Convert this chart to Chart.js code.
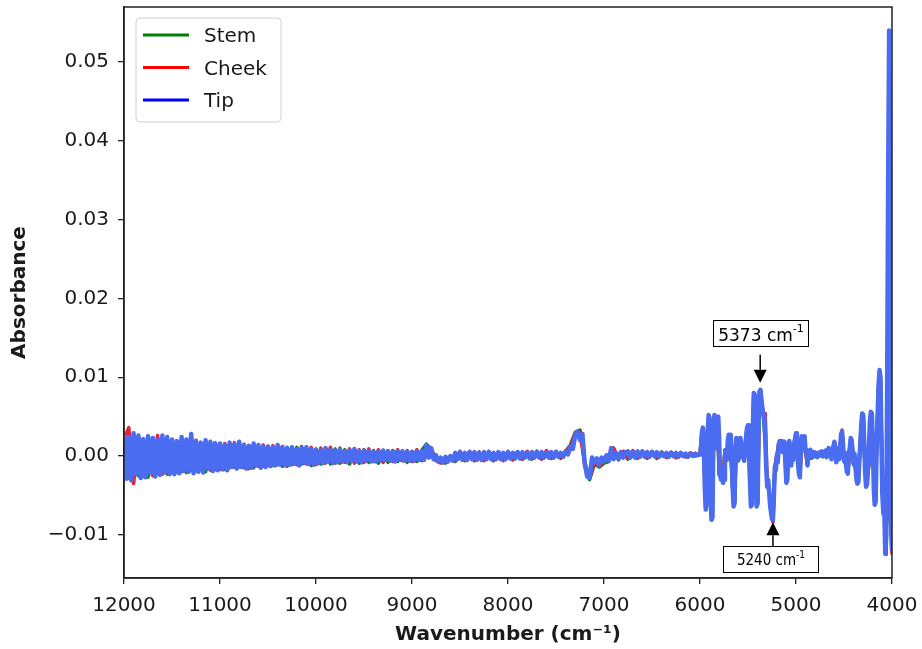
<!DOCTYPE html>
<html>
<head>
<meta charset="utf-8">
<script src="https://cdn.jsdelivr.net/npm/chart.js@4.4.1/dist/chart.umd.min.js"></script>
<style>
  html, body { margin: 0; padding: 0; background: #ffffff; }
  canvas { display: block; }
</style>
</head>
<body>
<canvas id="spectrum" width="922" height="649"></canvas>
<script>
// NIR absorbance spectra of three fruit regions.
const seriesNames = ['Stem', 'Cheek', 'Tip'];
const lineColors = ['#0b800b', '#e8203a', '#4a6cf0'];
const legendColors = ['#008000', '#ff0000', '#0000ff'];
const lineWidths = [3.5, 3.5, 4.5];

const xTickValues = [12000, 11000, 10000, 9000, 8000, 7000, 6000, 5000, 4000];
const yTickValues = [-0.01, 0.00, 0.01, 0.02, 0.03, 0.04, 0.05];

// Marked peaks (cm-1)
const peakUp = 5373;
const peakDown = 5240;

// Tip: 12000 -> 6025 cm-1, every 25 cm-1
const tipNoise = [
  0.0027, -0.0029, 0.0024, -0.0031, 0.0029, -0.0023, 0.0026, -0.0028, 0.0021, -0.0027,
  0.0025, -0.0022, 0.0023, -0.0026, 0.0020, -0.0024, 0.0026, -0.0021, 0.0024, -0.0023,
  0.0021, -0.0023, 0.0019, -0.0022, 0.0024, -0.0019, 0.0021, -0.0020, 0.0028, -0.0022,
  0.0019, -0.0020, 0.0017, -0.0021, 0.0020, -0.0016, 0.0018, -0.0019, 0.0016, -0.0018,
  0.0016, -0.0017, 0.0014, -0.0018, 0.0017, -0.0014, 0.0015, -0.0016, 0.0018, -0.0014,
  0.0014, -0.0016, 0.0013, -0.0015, 0.0016, -0.0012, 0.0014, -0.0015, 0.0012, -0.0014,
  0.0012, -0.0013, 0.0011, -0.0012, 0.0014, -0.0011, 0.0011, -0.0012, 0.0010, -0.0011,
  0.0011, -0.0010, 0.0009, -0.0012, 0.0010, -0.0009, 0.0011, -0.0010, 0.0009, -0.0011,
  0.0008, -0.0009, 0.0007, -0.0009, 0.0010, -0.0007, 0.0008, -0.0009, 0.0007, -0.0008,
  0.0008, -0.0007, 0.0006, -0.0008, 0.0007, -0.0006, 0.0009, -0.0007, 0.0006, -0.0008,
  0.0007, -0.0006, 0.0006, -0.0007, 0.0005, -0.0007, 0.0006, -0.0006, 0.0007, -0.0005,
  0.0006, -0.0006, 0.0005, -0.0007, 0.0006, -0.0005, 0.0006, -0.0006, 0.0005, -0.0006,
  0.0005, -0.0006, 0.0006, -0.0005, 0.0006, -0.0005, 0.0014, -0.0002, 0.0010, -0.0004,
  0.0001, -0.0007, -0.0002, -0.0008, -0.0001, -0.0007, 0.0000, -0.0006, 0.0004, -0.0004,
  0.0005, -0.0005, 0.0004, -0.0005, 0.0005, -0.0004, 0.0005, -0.0005, 0.0004, -0.0005,
  0.0005, -0.0004, 0.0005, -0.0004, 0.0004, -0.0004, 0.0005, -0.0004, 0.0004, -0.0004,
  0.0005, -0.0003, 0.0004, -0.0003, 0.0005, -0.0003, 0.0005, -0.0002, 0.0004, -0.0003,
  0.0005, -0.0002, 0.0005, -0.0002, 0.0005, -0.0002, 0.0004, -0.0002, 0.0005, -0.0002,
  0.0005, -0.0001, 0.0004, -0.0001, 0.0006, 0.0002, 0.0012, 0.0009, 0.0026, 0.0031,
  0.0020, 0.0028, -0.0010, -0.0026, -0.0028, -0.0002, -0.0008, -0.0003, -0.0011, -0.0002,
  -0.0007, 0.0001, -0.0006, 0.0010, -0.0004, 0.0004, -0.0003, 0.0005, -0.0002, 0.0005,
  0.0006, -0.0002, 0.0005, -0.0002, 0.0006, -0.0001, 0.0006, -0.0001, 0.0005, -0.0001,
  0.0005, 0.0000, 0.0005, -0.0001, 0.0004, 0.0000, 0.0004, -0.0001, 0.0004, 0.0000,
  0.0004, -0.0001, 0.0004, 0.0000, 0.0003, -0.0001, 0.0003, 0.0000, 0.0003, 0.0001
];

// Tip: 6000 -> 4000 cm-1, every 10 cm-1
const tipBands = [
  0.0002, 0.0010, 0.0030, 0.0036, 0.0012, -0.0040, -0.0068, -0.0060, 0.0030, 0.0052,
  0.0048, -0.0050, -0.0081, -0.0078, 0.0030, 0.0052, 0.0048, 0.0010, 0.0045, 0.0050,
  0.0020, -0.0025, -0.0030, -0.0015, -0.0034, -0.0030, 0.0000, 0.0008, -0.0005, 0.0020,
  0.0027, 0.0024, 0.0027, 0.0005, -0.0040, -0.0064, -0.0060, 0.0005, 0.0023, 0.0020,
  -0.0005, 0.0012, 0.0023, 0.0015, 0.0000, 0.0004, -0.0006, 0.0005, 0.0025, 0.0036,
  0.0039, 0.0015, -0.0030, -0.0064, -0.0062, 0.0030, 0.0080, 0.0078, -0.0020, -0.0064,
  -0.0060, 0.0030, 0.0082, 0.0084, 0.0072, 0.0060, 0.0052, 0.0050, 0.0020, -0.0015,
  -0.0039, -0.0030, -0.0045, -0.0062, -0.0072, -0.0080, -0.0081, -0.0050, -0.0014, -0.0018,
  0.0000, -0.0008, 0.0015, 0.0019, 0.0008, 0.0019, 0.0005, 0.0012, 0.0018, -0.0010,
  -0.0034, -0.0030, 0.0010, 0.0019, 0.0012, -0.0012, 0.0004, -0.0005, 0.0015, 0.0022,
  0.0029, 0.0025, -0.0008, -0.0022, -0.0027, 0.0005, 0.0025, 0.0018, 0.0022, 0.0025,
  0.0005, 0.0008, -0.0012, 0.0006, 0.0002, 0.0008, -0.0002, 0.0004, 0.0000, 0.0005,
  0.0001, 0.0004, -0.0001, 0.0003, 0.0001, 0.0005, 0.0002, 0.0006, 0.0000, 0.0004,
  0.0002, 0.0007, -0.0001, 0.0004, 0.0010, 0.0002, 0.0006, -0.0004, 0.0008, 0.0012,
  0.0018, 0.0010, -0.0008, 0.0006, 0.0010, -0.0004, 0.0012, 0.0028, 0.0031, 0.0015,
  -0.0006, 0.0004, -0.0010, -0.0020, -0.0022, 0.0002, 0.0010, 0.0023, 0.0020, 0.0005,
  -0.0010, 0.0003, -0.0015, -0.0030, -0.0035, -0.0033, -0.0005, 0.0015, 0.0040, 0.0054,
  0.0052, 0.0020, -0.0020, -0.0039, -0.0036, -0.0010, 0.0010, 0.0045, 0.0056, 0.0054,
  0.0020, -0.0040, -0.0062, -0.0058, 0.0010, 0.0050, 0.0090, 0.0109, 0.0100, 0.0020,
  -0.0050, -0.0073, -0.0070, -0.0124, -0.0100, 0.0100, 0.0350, 0.0540, 0.0250, -0.0080,
  -0.0120
];

// Stem: 12000 -> 6050 cm-1, every 50 cm-1
const stemNoise = [
  0.0025, -0.0028, 0.0026, -0.0025, 0.0022, -0.0027, 0.0023, -0.0022, 0.0024, -0.0023,
  0.0020, -0.0020, 0.0018, -0.0021, 0.0017, -0.0019, 0.0016, -0.0020, 0.0017, -0.0017,
  0.0015, -0.0017, 0.0014, -0.0014, 0.0015, -0.0015, 0.0012, -0.0015, 0.0013, -0.0013,
  0.0012, -0.0012, 0.0010, -0.0013, 0.0011, -0.0011, 0.0011, -0.0010, 0.0010, -0.0012,
  0.0009, -0.0010, 0.0008, -0.0010, 0.0009, -0.0009, 0.0008, -0.0010, 0.0007, -0.0009,
  0.0008, -0.0008, 0.0007, -0.0009, 0.0006, -0.0008, 0.0007, -0.0007, 0.0006, -0.0008,
  0.0006, -0.0007, 0.0007, 0.0015, 0.0009, -0.0005, -0.0008, -0.0009, -0.0003, -0.0007,
  0.0005, -0.0006, 0.0004, -0.0006, 0.0005, -0.0005, 0.0004, -0.0006, 0.0004, -0.0005,
  0.0004, -0.0005, 0.0005, -0.0004, 0.0005, -0.0004, 0.0006, -0.0003, 0.0005, -0.0003,
  0.0005, -0.0003, 0.0006, 0.0014, 0.0030, 0.0033, -0.0008, -0.0030, -0.0010, -0.0014,
  -0.0009, -0.0007, 0.0010, -0.0005, 0.0005, -0.0004, 0.0006, -0.0003, 0.0005, -0.0003,
  0.0004, -0.0003, 0.0005, -0.0002, 0.0004, -0.0002, 0.0003, -0.0001, 0.0003, 0.0000
];

// Stem: 6000 -> 4000 cm-1, every 20 cm-1
const stemBands = [
  0.0002, 0.0028, 0.0010, -0.0066, 0.0028, 0.0046, -0.0079, 0.0028, 0.0046, 0.0044,
  -0.0024, -0.0014, -0.0029, 0.0007, -0.0004, 0.0025, 0.0004, -0.0039, -0.0058, 0.0022,
  -0.0006, 0.0021, 0.0000, -0.0006, 0.0024, 0.0038, -0.0029, -0.0060, 0.0078, -0.0018,
  -0.0058, 0.0080, 0.0070, 0.0050, 0.0019, -0.0038, -0.0044, -0.0070, -0.0082, -0.0014,
  0.0000, 0.0014, 0.0008, 0.0005, 0.0017, -0.0033, 0.0010, 0.0011, 0.0004, 0.0014,
  0.0028, -0.0008, -0.0026, 0.0024, 0.0021, 0.0004, -0.0011, 0.0001, -0.0003, -0.0001,
  0.0000, -0.0002, 0.0000, 0.0001, -0.0001, 0.0001, -0.0002, 0.0009, 0.0005, 0.0007,
  0.0017, -0.0008, 0.0009, 0.0011, 0.0030, -0.0007, -0.0010, -0.0021, 0.0009, 0.0019,
  -0.0011, -0.0014, -0.0034, -0.0005, 0.0038, 0.0051, -0.0019, -0.0035, -0.0010, 0.0044,
  0.0019, -0.0060, 0.0009, 0.0088, 0.0098, -0.0048, -0.0068, -0.0098, 0.0170, -0.0080,
  -0.0110
];

// Cheek: 12000 -> 6050 cm-1, every 50 cm-1
const cheekNoise = [
  0.0022, 0.0036, -0.0035, 0.0025, -0.0026, 0.0022, -0.0025, 0.0026, -0.0023, 0.0022,
  -0.0021, 0.0019, -0.0020, 0.0021, -0.0018, 0.0020, -0.0017, 0.0019, -0.0018, 0.0017,
  -0.0017, 0.0016, -0.0015, 0.0017, -0.0014, 0.0015, -0.0016, 0.0014, -0.0013, 0.0014,
  -0.0012, 0.0013, -0.0011, 0.0012, -0.0013, 0.0011, -0.0011, 0.0012, -0.0010, 0.0011,
  -0.0011, 0.0010, -0.0009, 0.0011, -0.0009, 0.0010, -0.0008, 0.0009, -0.0009, 0.0008,
  -0.0008, 0.0009, -0.0007, 0.0008, -0.0008, 0.0007, -0.0007, 0.0008, -0.0006, 0.0007,
  -0.0007, 0.0008, -0.0006, 0.0013, 0.0009, -0.0006, -0.0009, -0.0007, -0.0002, -0.0006,
  0.0006, -0.0005, 0.0006, -0.0005, 0.0005, -0.0006, 0.0006, -0.0005, 0.0005, -0.0006,
  0.0006, -0.0004, 0.0005, -0.0004, 0.0006, -0.0003, 0.0006, -0.0004, 0.0007, -0.0003,
  0.0006, -0.0002, 0.0006, 0.0012, 0.0028, 0.0030, -0.0012, -0.0028, -0.0008, -0.0013,
  -0.0007, 0.0000, 0.0010, -0.0004, 0.0006, -0.0003, 0.0007, -0.0002, 0.0006, -0.0002,
  0.0006, -0.0002, 0.0005, -0.0001, 0.0005, -0.0002, 0.0004, -0.0001, 0.0004, 0.0001
];

// Cheek: 6000 -> 4000 cm-1, every 20 cm-1
const cheekBands = [
  0.0003, 0.0029, 0.0011, -0.0067, 0.0029, 0.0047, -0.0080, 0.0029, 0.0047, 0.0046,
  -0.0023, -0.0013, -0.0028, 0.0008, -0.0003, 0.0026, 0.0005, -0.0040, -0.0059, 0.0023,
  -0.0005, 0.0022, 0.0001, -0.0005, 0.0025, 0.0039, -0.0028, -0.0061, 0.0079, -0.0017,
  -0.0059, 0.0081, 0.0071, 0.0054, 0.0054, -0.0037, -0.0043, -0.0071, -0.0084, -0.0013,
  0.0001, 0.0015, 0.0009, 0.0006, 0.0018, -0.0032, 0.0011, 0.0012, 0.0005, 0.0015,
  0.0029, -0.0007, -0.0025, 0.0025, 0.0022, 0.0005, -0.0010, 0.0002, -0.0002, 0.0000,
  0.0001, -0.0001, 0.0001, 0.0002, 0.0000, 0.0002, -0.0001, 0.0010, 0.0006, 0.0008,
  0.0018, -0.0007, 0.0010, 0.0012, 0.0033, -0.0006, -0.0009, -0.0023, 0.0010, 0.0020,
  -0.0010, -0.0013, -0.0033, -0.0004, 0.0039, 0.0052, -0.0018, -0.0034, -0.0009, 0.0045,
  0.0020, -0.0059, 0.0010, 0.0089, 0.0099, -0.0047, -0.0067, -0.0125, 0.0228, -0.0060,
  -0.0125
];

function spectrumPoints(noise, noiseStep, bands, bandStep) {
  const pts = noise.map((v, i) => ({ x: 12000 - i * noiseStep, y: v }));
  bands.forEach((v, i) => pts.push({ x: 6000 - i * bandStep, y: v }));
  return pts;
}

const seriesPoints = [
  spectrumPoints(stemNoise, 50, stemBands, 20),
  spectrumPoints(cheekNoise, 50, cheekBands, 20),
  spectrumPoints(tipNoise, 25, tipBands, 10)
];

const drawOrder = [2, 1, 0]; // Tip on top

const FONT = "'DejaVu Sans', 'Liberation Sans', sans-serif";
const INK = '#1a1a1a';

function fmtTick(v) {
  const s = Math.abs(v).toFixed(2);
  return v < -1e-9 ? '\u2212' + s : s;
}

const overlay = {
  id: 'overlay',
  afterDatasetsDraw(chart) {
    const { ctx, chartArea: a, scales: { x, y } } = chart;
    ctx.save();

    // axes frame
    ctx.strokeStyle = '#222';
    ctx.lineWidth = 1.5;
    ctx.strokeRect(a.left, a.top, a.right - a.left, a.bottom - a.top);

    // legend
    const lx = a.left + 12, ly = a.top + 11, lw = 145, lh = 104;
    ctx.beginPath();
    ctx.roundRect(lx, ly, lw, lh, 4);
    ctx.fillStyle = 'rgba(255,255,255,0.85)';
    ctx.fill();
    ctx.strokeStyle = '#d0d0d0';
    ctx.lineWidth = 1;
    ctx.stroke();
    ctx.font = '20px ' + FONT;
    ctx.textBaseline = 'alphabetic';
    ctx.textAlign = 'left';
    seriesNames.forEach((name, i) => {
      const rowY = ly + 17 + i * 32.5;
      ctx.strokeStyle = legendColors[i];
      ctx.lineWidth = 3;
      ctx.beginPath();
      ctx.moveTo(lx + 7, rowY);
      ctx.lineTo(lx + 53, rowY);
      ctx.stroke();
      ctx.fillStyle = INK;
      ctx.fillText(name, lx + 68, rowY + 7);
    });

    // peak markers
    drawNote(ctx, x.getPixelForValue(peakUp), y.getPixelForValue(0.0093), 'down',
      String(peakUp) + ' cm', '17px ' + FONT, '11px ' + FONT, -47);
    drawNote(ctx, x.getPixelForValue(peakDown), y.getPixelForValue(-0.0084), 'up',
      String(peakDown) + ' cm', "15px 'DejaVu Sans Condensed', " + FONT, "10px 'DejaVu Sans Condensed', " + FONT, -50);

    ctx.restore();
  }
};

function drawNote(ctx, px, tipY, dir, text, mainFont, supFont, boxShift) {
  const boxW = 95, boxH = 26, head = 13, half = 6.5;
  let boxTop, tailY, baseY;
  if (dir === 'down') {
    boxTop = tipY - 63;
    tailY = tipY - 28;
    baseY = tipY - head;
  } else {
    boxTop = tipY + 24;
    tailY = boxTop;
    baseY = tipY + head;
  }
  // arrow shaft + head
  ctx.strokeStyle = '#000';
  ctx.fillStyle = '#000';
  ctx.lineWidth = 1.5;
  ctx.beginPath();
  ctx.moveTo(px, tailY);
  ctx.lineTo(px, baseY);
  ctx.stroke();
  ctx.beginPath();
  ctx.moveTo(px - half, baseY);
  ctx.lineTo(px + half, baseY);
  ctx.lineTo(px, tipY);
  ctx.closePath();
  ctx.fill();

  // box
  const bx = Math.round(px + boxShift) + 0.5, by = Math.round(boxTop) + 0.5;
  ctx.fillStyle = '#fff';
  ctx.fillRect(bx, by, boxW, boxH);
  ctx.lineWidth = 1;
  ctx.strokeStyle = '#000';
  ctx.strokeRect(bx, by, boxW, boxH);

  // text with superscript
  ctx.textAlign = 'left';
  ctx.textBaseline = 'alphabetic';
  ctx.font = mainFont;
  const mw = ctx.measureText(text).width;
  ctx.font = supFont;
  const sw = ctx.measureText('-1').width;
  const tx = bx + (boxW - mw - sw) / 2;
  const mainBase = dir === 'down' ? by + 20.5 : by + 18;
  const supBase = by + 11;
  ctx.fillStyle = '#000';
  ctx.font = mainFont;
  ctx.fillText(text, tx, mainBase);
  ctx.font = supFont;
  ctx.fillText('-1', tx + mw, supBase);
}

const datasets = seriesNames.map((name, i) => ({
  label: name,
  data: seriesPoints[i],
  borderColor: lineColors[i],
  backgroundColor: lineColors[i],
  borderWidth: lineWidths[i],
  borderJoinStyle: 'round',
  pointRadius: 0,
  tension: 0,
  fill: false,
  order: drawOrder[i]
}));

new Chart(document.getElementById('spectrum'), {
  type: 'line',
  data: { datasets },
  options: {
    responsive: false,
    animation: false,
    devicePixelRatio: 1,
    layout: { padding: { top: 7, right: 30, left: 0, bottom: 0 } },
    plugins: { legend: { display: false }, tooltip: { enabled: false } },
    scales: {
      x: {
        type: 'linear',
        reverse: true,
        min: 4000,
        max: 12000,
        afterFit: s => { s.height = 71; s.paddingLeft = 0; s.paddingRight = 0; },
        afterBuildTicks: s => { s.ticks = xTickValues.map(v => ({ value: v })); },
        border: { display: true, color: '#222', width: 1.5 },
        grid: { display: true, drawOnChartArea: false, drawTicks: true, tickLength: 6, color: '#222', lineWidth: 1.3 },
        ticks: {
          autoSkip: false, maxRotation: 0, padding: 10,
          color: INK, font: { family: FONT, size: 20 },
          callback: v => String(v)
        },
        title: {
          display: true, text: 'Wavenumber (cm\u207B\u00B9)', color: INK,
          font: { family: FONT, size: 20, weight: 'bold' },
          padding: { top: 0, bottom: 2 }
        }
      },
      y: {
        type: 'linear',
        min: -0.01548,
        max: 0.05698,
        afterFit: s => { s.width = 124; s.paddingTop = 0; s.paddingBottom = 0; },
        afterBuildTicks: s => { s.ticks = yTickValues.map(v => ({ value: v })); },
        border: { display: true, color: '#222', width: 1.5 },
        grid: { display: true, drawOnChartArea: false, drawTicks: true, tickLength: 6, color: '#222', lineWidth: 1.3 },
        ticks: {
          padding: 9, color: INK, font: { family: FONT, size: 20 },
          callback: v => fmtTick(v)
        },
        title: {
          display: true, text: 'Absorbance', color: INK,
          font: { family: FONT, size: 20, weight: 'bold' },
          padding: { top: 8, bottom: 0 }
        }
      }
    }
  },
  plugins: [overlay]
});
</script>
</body>
</html>
